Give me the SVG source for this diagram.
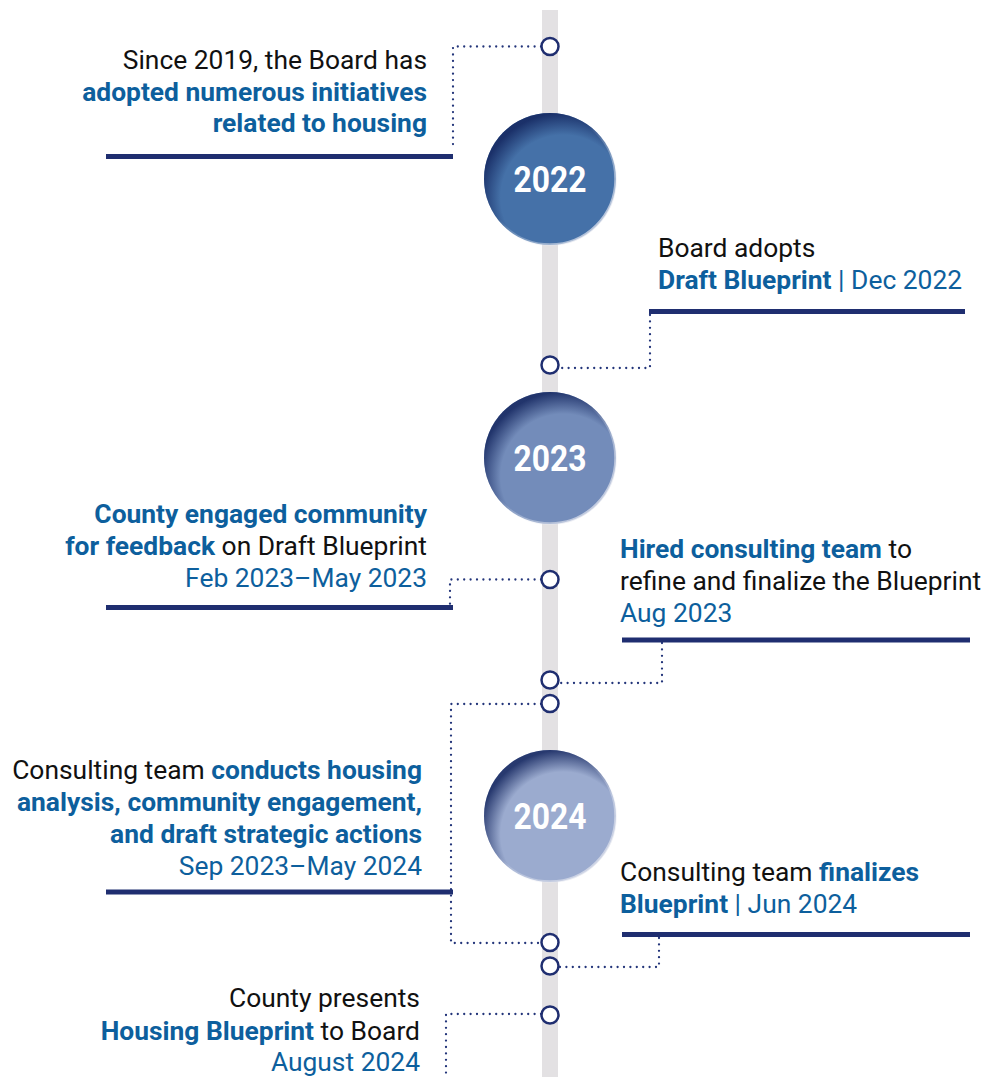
<svg xmlns="http://www.w3.org/2000/svg" width="990" height="1084" viewBox="0 0 990 1084">
  <defs>
    <style>
      .t { font-family: Roboto, "Liberation Sans", sans-serif; font-size: 26.4px; fill: #111111; }
      .b { fill: #0d5f9d; font-weight: 700; }
      .d { fill: #0d5f9d; }
      .bar { fill: #1f2e70; }
      .dots { fill: none; stroke: #23357a; stroke-width: 2.3; stroke-linecap: round; stroke-dasharray: 0 6.4; }
      .node { fill: #ffffff; stroke: #1f2e70; stroke-width: 2.5; }
      .year { font-family: Roboto, "Liberation Sans", sans-serif; font-weight: 700; font-size: 36px; fill: #ffffff; text-anchor: middle; }
    </style>
    <!-- dark rim on the upper-left of each year disc -->
    <radialGradient id="shade" cx="0.6" cy="0.64" r="0.64">
      <stop offset="0" stop-color="#13255e" stop-opacity="0"/>
      <stop offset="0.74" stop-color="#13255e" stop-opacity="0"/>
      <stop offset="1" stop-color="#13255e" stop-opacity="0.85"/>
    </radialGradient>
    <!-- light edge on the lower-right -->
    <linearGradient id="glint" x1="0" y1="0" x2="1" y2="1">
      <stop offset="0.45" stop-color="#ffffff" stop-opacity="0"/>
      <stop offset="1" stop-color="#d4d8e6" stop-opacity="1"/>
    </linearGradient>
  </defs>

  <rect width="990" height="1084" fill="#ffffff"/>

  <!-- timeline spine -->
  <rect id="spine" x="542" y="10" width="16" height="1067" fill="#e3e1e3"/>

  <!-- dotted leaders -->
  <g id="connectors">
    <path class="dots" d="M541 46.5 H453 V150"/>
    <path class="dots" d="M650 315 V368 H559"/>
    <path class="dots" d="M541 579.5 H450 V604"/>
    <path class="dots" d="M662 643 V683 H559"/>
    <path class="dots" d="M541 704 H451 V943 H541"/>
    <path class="dots" d="M659 938 V967 H559"/>
    <path class="dots" d="M541 1014 H446 V1077"/>
  </g>

  <!-- year discs -->
  <g id="y2022">
    <circle cx="550" cy="179" r="66" fill="#4571a8"/>
    <circle cx="550" cy="179" r="66" fill="url(#shade)"/>
    <circle cx="550" cy="179" r="65.5" fill="none" stroke="url(#glint)" stroke-width="2.5"/>
    <text class="year" x="550" y="192" textLength="73" lengthAdjust="spacingAndGlyphs">2022</text>
  </g>
  <g id="y2023">
    <circle cx="550" cy="458" r="66" fill="#738cba"/>
    <circle cx="550" cy="458" r="66" fill="url(#shade)"/>
    <circle cx="550" cy="458" r="65.5" fill="none" stroke="url(#glint)" stroke-width="2.5"/>
    <text class="year" x="550" y="470.5" textLength="73" lengthAdjust="spacingAndGlyphs">2023</text>
  </g>
  <g id="y2024">
    <circle cx="550" cy="816" r="66" fill="#9babcf"/>
    <circle cx="550" cy="816" r="66" fill="url(#shade)"/>
    <circle cx="550" cy="816" r="65.5" fill="none" stroke="url(#glint)" stroke-width="2.5"/>
    <text class="year" x="550" y="828.5" textLength="73" lengthAdjust="spacingAndGlyphs">2024</text>
  </g>

  <!-- milestone markers on the spine -->
  <g id="markers">
    <circle class="node" cx="550" cy="46.5" r="8.5"/>
    <circle class="node" cx="550" cy="365" r="8.5"/>
    <circle class="node" cx="550" cy="579.5" r="8.5"/>
    <circle class="node" cx="550" cy="680" r="8.5"/>
    <circle class="node" cx="550" cy="703.5" r="8.5"/>
    <circle class="node" cx="550" cy="942.5" r="8.5"/>
    <circle class="node" cx="550" cy="966" r="8.5"/>
    <circle class="node" cx="550" cy="1015" r="8.5"/>
  </g>

  <!-- milestone notes -->
  <g id="m-initiatives">
    <text class="t" text-anchor="end" x="427" y="69">Since 2019, the Board has</text>
    <text class="t b" text-anchor="end" x="427" y="100.5">adopted numerous initiatives</text>
    <text class="t b" text-anchor="end" x="427" y="132">related to housing</text>
    <rect class="bar" x="106" y="154" width="347" height="5"/>
  </g>

  <g id="m-draft">
    <text class="t" x="658" y="257">Board adopts</text>
    <text class="t" x="658" y="289"><tspan class="b">Draft Blueprint</tspan><tspan class="d"> | Dec 2022</tspan></text>
    <rect class="bar" x="649" y="309" width="316" height="5"/>
  </g>

  <g id="m-feedback">
    <text class="t b" text-anchor="end" x="427" y="522.5">County engaged community</text>
    <text class="t" text-anchor="end" x="427" y="555"><tspan class="b">for feedback</tspan> on Draft Blueprint</text>
    <text class="t d" text-anchor="end" x="427" y="586.5">Feb 2023–May 2023</text>
    <rect class="bar" x="106" y="605" width="347" height="5"/>
  </g>

  <g id="m-hired">
    <text class="t" x="620" y="557.5"><tspan class="b">Hired consulting team</tspan> to</text>
    <text class="t" x="620" y="590">refine and finalize the Blueprint</text>
    <text class="t d" x="620" y="622">Aug 2023</text>
    <rect class="bar" x="622" y="637.5" width="348" height="5"/>
  </g>

  <g id="m-analysis">
    <text class="t" text-anchor="end" x="422" y="778.5">Consulting team <tspan class="b">conducts housing</tspan></text>
    <text class="t b" text-anchor="end" x="422" y="810.5">analysis, community engagement,</text>
    <text class="t b" text-anchor="end" x="422" y="843">and draft strategic actions</text>
    <text class="t d" text-anchor="end" x="422" y="875">Sep 2023–May 2024</text>
    <rect class="bar" x="106" y="889.5" width="347" height="5"/>
  </g>

  <g id="m-finalize">
    <text class="t" x="620" y="880.5">Consulting team <tspan class="b">finalizes</tspan></text>
    <text class="t" x="620" y="913"><tspan class="b">Blueprint</tspan><tspan class="d"> | Jun 2024</tspan></text>
    <rect class="bar" x="622" y="932" width="348" height="5"/>
  </g>

  <g id="m-presents">
    <text class="t" text-anchor="end" x="420" y="1007">County presents</text>
    <text class="t" text-anchor="end" x="420" y="1039.5"><tspan class="b">Housing Blueprint</tspan> to Board</text>
    <text class="t d" text-anchor="end" x="420" y="1071">August 2024</text>
  </g>
</svg>
